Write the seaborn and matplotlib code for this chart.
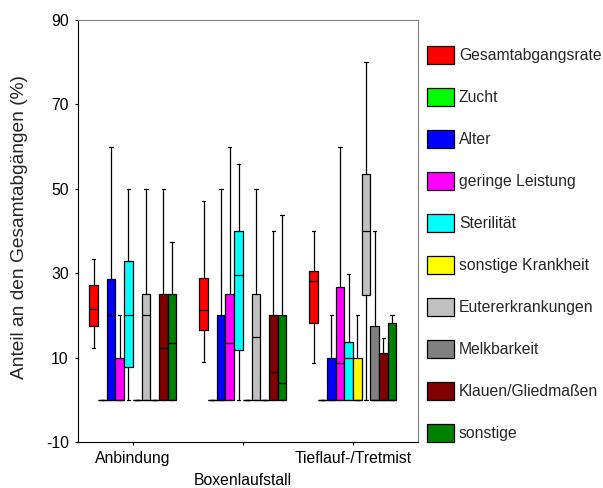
import matplotlib
matplotlib.use("Agg")
import matplotlib.pyplot as plt
from matplotlib.patches import Patch
import seaborn as sns
import pandas as pd

# categories on the x axis
haltung = ["Anbindung", "Boxenlaufstall", "Tieflauf-/Tretmist"]

# causes (hue levels) and their colours
ursachen = ["Gesamtabgangsrate", "Zucht", "Alter", "geringe Leistung", "Sterilität",
            "sonstige Krankheit", "Eutererkrankungen", "Melkbarkeit",
            "Klauen/Gliedmaßen", "sonstige"]
farben = ["#FF0000", "#00FF00", "#0000FF", "#FF00FF", "#00FFFF",
          "#FFFF00", "#C0C0C0", "#808080", "#800000", "#008000"]

# five-number summaries per cause: [min, q1, median, q3, max]  (%)
anbindung = [
    [12.4, 17.5, 21.5, 27.2, 33.3],
    [0, 0, 0, 0, 0],
    [0, 0, 20.0, 28.6, 60.0],
    [0, 0, 0, 10.0, 20.0],
    [0, 7.9, 20.0, 32.9, 50.0],
    [0, 0, 0, 0, 0],
    [0, 0, 20.0, 25.0, 50.0],
    [0, 0, 0, 0, 0],
    [0, 0, 12.4, 25.0, 50.0],
    [0, 0, 13.5, 25.0, 37.4],
]
boxenlaufstall = [
    [9.1, 16.5, 21.2, 29.0, 47.1],
    [0, 0, 0, 0, 0],
    [0, 0, 0, 20.0, 50.0],
    [0, 0, 13.4, 25.0, 60.0],
    [0, 11.8, 29.5, 40.0, 55.9],
    [0, 0, 0, 0, 0],
    [0, 0, 14.9, 25.0, 50.0],
    [0, 0, 0, 0, 0],
    [0, 0, 6.7, 20.0, 40.0],
    [0, 0, 4.1, 20.0, 43.9],
]
tieflauf = [
    [8.8, 18.2, 28.1, 30.5, 40.0],
    [0, 0, 0, 0, 0],
    [0, 0, 0, 10.0, 20.0],
    [0, 0, 8.7, 26.8, 60.0],
    [0, 0, 10.0, 13.8, 29.9],
    [0, 0, 0, 10.0, 20.0],
    [0, 24.9, 40.0, 53.5, 80.0],
    [0, 0, 0, 17.5, 40.0],
    [0, 0, 0, 11.2, 14.6],
    [0, 0, 0, 18.2, 20.0],
]

# long table for seaborn
rows = []
for h, summaries in zip(haltung, [anbindung, boxenlaufstall, tieflauf]):
    for u, vals in zip(ursachen, summaries):
        for v in vals:
            rows.append({"Haltung": h, "Ursache": u, "Anteil": v})
df = pd.DataFrame(rows)

sns.set_style("ticks")
plt.rcParams["font.family"] = ["Liberation Sans", "DejaVu Sans"]
plt.rcParams["axes.unicode_minus"] = False

fs = 11.3

fig = plt.figure(figsize=(6.03, 4.88), dpi=100)
ax = fig.add_axes([0.129, 0.094, 0.564, 0.865])

sns.boxplot(data=df, x="Haltung", y="Anteil", hue="Ursache",
            order=haltung, hue_order=ursachen, palette=farben,
            whis=(0, 100), width=0.79, saturation=1, linecolor="black",
            linewidth=0.9, fliersize=0, legend=False, capwidths=0.03, ax=ax)

ax.set_ylim(-10, 90)
ax.set_yticks([-10, 10, 30, 50, 70, 90])
ax.set_xlim(-0.5, 2.59)
ax.set_xlabel("")
ax.set_ylabel("Anteil an den Gesamtabgängen (%)", fontsize=13.8)
ax.yaxis.set_label_coords(-0.145, 0.51)
ax.tick_params(axis="both", labelsize=fs, colors="black", length=2.5, pad=4)
# middle category label sits one row lower, as in the original
ax.xaxis.get_major_ticks()[1].set_pad(19.5)

for side in ["top", "right"]:
    ax.spines[side].set_visible(True)
    ax.spines[side].set_color("#808080")
for side in ["left", "bottom"]:
    ax.spines[side].set_color("black")

handles = [Patch(facecolor=c, edgecolor="black", linewidth=0.9) for c in farben]
fig.legend(handles, ursachen, loc="upper left", bbox_to_anchor=(0.685, 0.935),
           frameon=False, fontsize=fs, handlelength=1.72, handleheight=1.386,
           labelspacing=1.53, handletextpad=0.3)

fig.savefig("out.png", dpi=100)
